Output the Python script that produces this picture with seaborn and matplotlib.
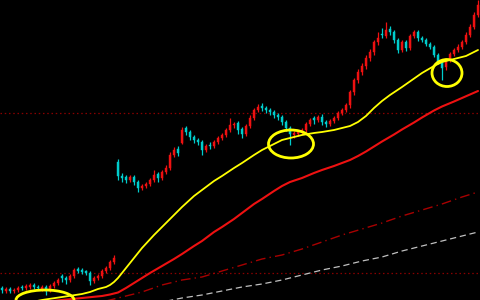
import matplotlib
matplotlib.use("Agg")
import matplotlib.pyplot as plt
from matplotlib.patches import Ellipse
import seaborn as sns
import pandas as pd
import numpy as np

# ---- candle data (price units) ----
opens = [12, 9, 11, 9, 10, 13, 12, 13, 15, 13, 11, 13, 9, 14, 17, 24, 22, 20, 24, 31,
         30, 29, 27, 19, 22, 24, 29, 32, 38, 138, 124, 123, 120, 123, 118, 112, 114, 116, 120, 126,
         122, 128, 132, 145, 151, 157, 172, 168, 163, 160, 158, 150, 155, 154, 158, 162, 165, 170, 175, 177,
         171, 166, 174, 182, 190, 194, 192, 190, 188, 185, 183, 178, 172, 165, 166, 168, 170, 176, 182, 180,
         183, 178, 176, 179, 182, 187, 190, 195, 208, 220, 228, 234, 242, 248, 258, 266, 264, 271, 268, 260,
         250, 258, 252, 264, 268, 262, 260, 256, 253, 245, 238, 233, 240, 246, 250, 253, 258, 265, 273, 285]
closes = [10, 11, 9, 10, 12, 12, 14, 15, 13, 12, 13, 9, 14, 17, 20, 22, 20, 24, 30, 29,
          28, 27, 19, 22, 24, 29, 32, 38, 42, 124, 122, 120, 123, 118, 112, 114, 116, 120, 125, 122,
          128, 132, 145, 150, 147, 170, 168, 163, 160, 158, 150, 154, 154, 158, 162, 165, 170, 175, 176, 170,
          166, 174, 182, 190, 193, 192, 190, 188, 185, 183, 178, 172, 166, 167, 168, 170, 176, 180, 180, 183,
          178, 176, 179, 182, 187, 190, 195, 208, 220, 228, 234, 242, 248, 258, 262, 265, 270, 268, 260, 250,
          258, 252, 264, 268, 262, 260, 256, 253, 245, 238, 232, 240, 246, 250, 253, 258, 265, 273, 285, 295]
highs = [14, 13, 13, 12, 14, 15, 16, 17, 17, 15, 15, 15, 16, 19, 22, 26, 24, 26, 32, 33,
         32, 30, 29, 24, 26, 31, 34, 40, 45, 141, 127, 125, 125, 125, 120, 116, 118, 122, 130, 128,
         130, 135, 148, 153, 154, 173, 174, 170, 165, 162, 160, 156, 158, 160, 164, 167, 172, 182, 178, 179,
         173, 176, 185, 192, 196, 197, 194, 192, 190, 187, 185, 180, 174, 169, 170, 172, 178, 182, 184, 185,
         186, 180, 181, 184, 189, 192, 197, 210, 222, 231, 237, 245, 251, 260, 268, 272, 278, 274, 270, 262,
         260, 260, 266, 270, 270, 264, 262, 258, 255, 247, 240, 242, 248, 252, 256, 260, 268, 276, 288, 300]
lows = [7, 7, 7, 7, 8, 10, 10, 11, 11, 10, 9, 5, 8, 12, 15, 18, 16, 18, 22, 27,
        26, 25, 15, 17, 20, 22, 27, 30, 36, 120, 118, 117, 118, 115, 108, 110, 112, 114, 118, 118,
        120, 126, 130, 143, 144, 156, 165, 160, 157, 155, 145, 148, 151, 152, 156, 160, 163, 168, 172, 166,
        162, 164, 172, 180, 188, 189, 187, 185, 182, 180, 175, 169, 155, 162, 164, 166, 168, 174, 176, 178,
        175, 173, 174, 177, 180, 185, 188, 192, 205, 217, 225, 231, 239, 245, 255, 262, 262, 265, 257, 247,
        248, 249, 250, 262, 259, 258, 254, 251, 243, 236, 220, 230, 238, 244, 248, 251, 256, 263, 271, 283]

# ---- moving averages (sampled at candle indices) ----
yellow_idx = [0, 5, 10, 15, 20, 22, 24, 26, 27, 28, 29, 30, 31, 32, 33, 35, 38, 40, 43, 45,
              48, 50, 53, 55, 58, 60, 63, 65, 68, 70, 73, 75, 78, 80, 83, 85, 87, 89, 91, 93,
              95, 97, 100, 105, 108, 110, 113, 116, 119]
ma_yellow = [-6, -4, 0, 3, 6, 8, 11, 13, 15, 18, 22, 27, 32, 37, 42, 52, 65, 73, 85, 93,
             104, 110, 119, 124, 132, 137, 145, 150, 156, 160, 163, 165, 167, 168, 170, 172, 174, 178, 184, 192,
             199, 205, 213, 227, 234, 238, 241, 244, 250]
red_idx = [0, 10, 15, 20, 25, 27, 29, 31, 33, 35, 37, 40, 43, 45, 48, 50, 53, 55, 58, 60,
           63, 65, 68, 70, 72, 75, 78, 80, 83, 85, 87, 89, 91, 93, 95, 98, 100, 103, 105, 108,
           110, 113, 115, 119]
ma_red = [-4, -2, 0, 2, 4, 5.5, 7.5, 12, 17, 22, 27, 34, 41, 46, 54, 59, 68, 73, 81, 87,
          96, 101, 109, 114, 118, 122, 127, 130, 134, 137, 140, 144, 148.5, 153.5, 158.5, 165.5, 170.5, 177.5, 182.5, 189.5,
          193.5, 198.5, 202, 209]
slow_idx = [0, 5, 10, 15, 20, 25, 30, 35, 40, 45, 50, 55, 60, 65, 70, 75, 80, 85, 90, 95, 100, 105, 110, 115, 119]
ma_red_dash = [-25, -20, -15, -11, -6, -2, 3, 8, 15, 20, 23, 29, 35, 41, 45, 51, 58, 65, 71, 77, 84, 90, 96, 103, 108]
ma_gray = [-31, -27, -24, -20, -16, -13, -9, -5, -2, 2, 5, 9, 13, 16, 20, 25, 30, 34, 39, 43, 49, 54, 59, 64, 68]

ref_levels = [187, 27]

# highlighted zones: (center index, center price, width idx, height price)
circles = [(10.75, 0, 14.5, 20), (72.25, 156, 11.25, 28), (111.25, 227, 7.5, 27)]

sns.set_style("dark", {"axes.facecolor": "black", "figure.facecolor": "black"})

fig = plt.figure(figsize=(4.8, 3.0), dpi=100, facecolor="black")
ax = fig.add_axes([0, 0, 1, 1])
ax.set_facecolor("black")

n = len(closes)
idx = np.arange(n)
o = np.array(opens); c = np.array(closes)
up = c >= o
cols = np.where(up, "#ee1111", "#00cccc")

ax.vlines(idx, lows, highs, colors=cols, linewidth=0.9, zorder=2)
bottoms = np.minimum(o, c)
heights = np.maximum(np.abs(c - o), 1.0)
ax.bar(idx, heights, bottom=bottoms, width=0.65, color=cols, edgecolor=cols, linewidth=0.3, zorder=3)

for lv in ref_levels:
    ax.axhline(lv, color="#8a0000", linewidth=0.9, linestyle=(0, (1.2, 2.2)), zorder=1)

dfy = pd.DataFrame({"i": yellow_idx, "v": ma_yellow})
dfr = pd.DataFrame({"i": red_idx, "v": ma_red})
dfs = pd.DataFrame({"i": slow_idx, "rd": ma_red_dash, "g": ma_gray})
sns.lineplot(data=dfs, x="i", y="g", ax=ax, color="#c0c0c0", linewidth=0.9, linestyle=(0, (5, 3)), zorder=1)
sns.lineplot(data=dfs, x="i", y="rd", ax=ax, color="#a80000", linewidth=1.0, linestyle=(0, (7, 3, 1, 3)), zorder=1)
sns.lineplot(data=dfr, x="i", y="v", ax=ax, color="#ee1111", linewidth=1.5, zorder=4)
sns.lineplot(data=dfy, x="i", y="v", ax=ax, color="#ffff00", linewidth=1.3, zorder=4)

for cx, cy, w, h in circles:
    ax.add_patch(Ellipse((cx, cy), w, h, fill=False, edgecolor="#ffff00", linewidth=2.0, zorder=5))

ax.set_xlim(-0.5, n - 0.5)
ax.set_ylim(0, 300)
ax.set_xlabel(""); ax.set_ylabel("")
ax.set_xticks([]); ax.set_yticks([])
for s in ax.spines.values():
    s.set_visible(False)
ax.grid(False)

fig.savefig("out.png", dpi=100, facecolor="black")
